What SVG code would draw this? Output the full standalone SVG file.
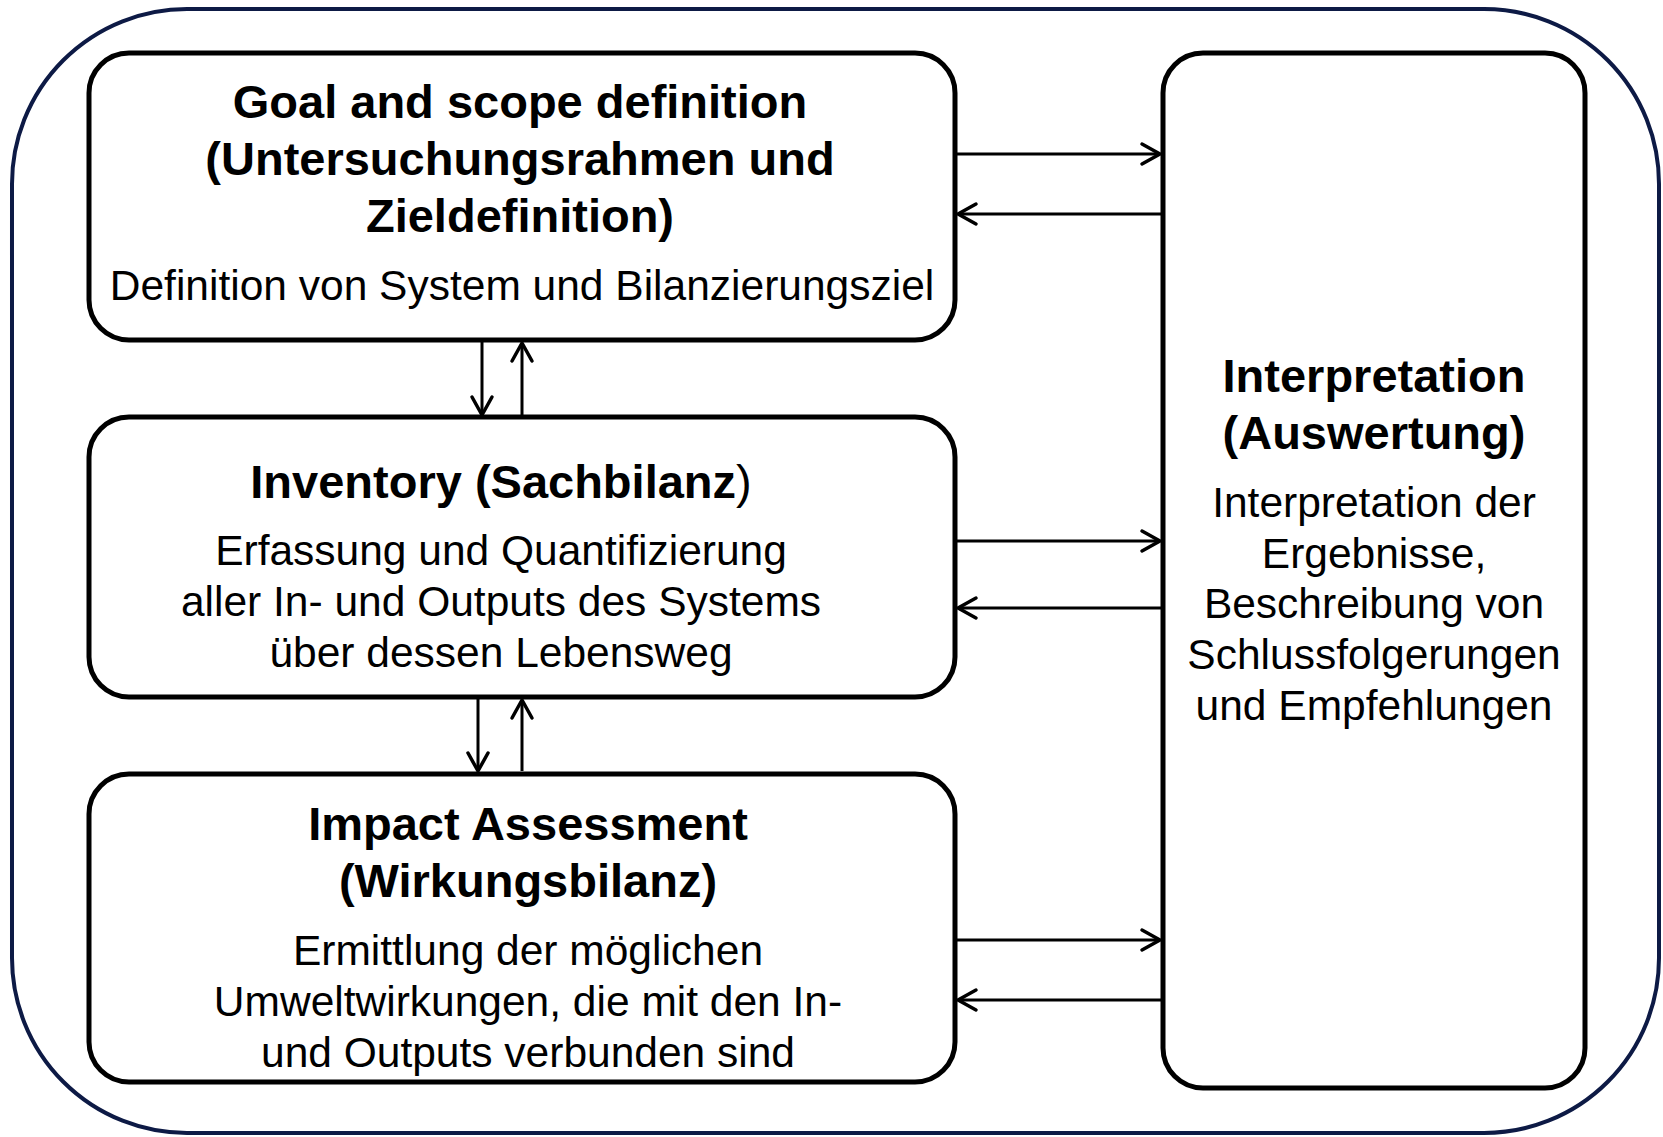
<svg xmlns="http://www.w3.org/2000/svg" width="1663" height="1137" viewBox="0 0 1663 1137">
<style>
.box{fill:#fff;stroke:#000;stroke-width:5}
.outer{fill:#fff;stroke:#0d1a45;stroke-width:4}
.b{font-family:"Liberation Sans",Arial,sans-serif;font-weight:bold;font-size:47px;fill:#000;text-anchor:middle}
.r{font-family:"Liberation Sans",Arial,sans-serif;font-size:42.5px;fill:#000;text-anchor:middle}
.c{stroke:#000;stroke-width:3;fill:none;marker-end:url(#ah)}
</style>
<defs>
<marker id="ah" markerUnits="userSpaceOnUse" viewBox="-22 -14 26 28" markerWidth="26" markerHeight="28" refX="0" refY="0" orient="auto" overflow="visible">
<path d="M-18,-10 L0,0 L-18,10" fill="none" stroke="#000" stroke-width="3.5" stroke-linecap="round" stroke-linejoin="round"/>
</marker>
</defs>
<rect class="outer" x="12" y="9" width="1647" height="1124" rx="175" ry="175"/>
<g id="goal">
<rect class="box" x="89" y="53" width="866" height="287" rx="40" ry="40"/>
<text class="b" x="520" y="118">Goal and scope definition</text>
<text class="b" x="520" y="175">(Untersuchungsrahmen und</text>
<text class="b" x="520" y="232">Zieldefinition)</text>
<text class="r" x="522" y="300">Definition von System und Bilanzierungsziel</text>
</g>
<g id="inventory">
<rect class="box" x="89" y="417" width="866" height="280" rx="40" ry="40"/>
<text class="b" x="501" y="498">Inventory (Sachbilanz<tspan font-weight="normal">)</tspan></text>
<text class="r" x="501" y="565">Erfassung und Quantifizierung</text>
<text class="r" x="501" y="616">aller In- und Outputs des Systems</text>
<text class="r" x="501" y="667">über dessen Lebensweg</text>
</g>
<g id="impact">
<rect class="box" x="89" y="774" width="866" height="308" rx="40" ry="40"/>
<text class="b" x="528" y="840">Impact Assessment</text>
<text class="b" x="528" y="897">(Wirkungsbilanz)</text>
<text class="r" x="528" y="965">Ermittlung der möglichen</text>
<text class="r" x="528" y="1016">Umweltwirkungen, die mit den In-</text>
<text class="r" x="528" y="1067">und Outputs verbunden sind</text>
</g>
<g id="interpretation">
<rect class="box" x="1163" y="53" width="422" height="1035" rx="40" ry="40"/>
<text class="b" x="1374" y="392">Interpretation</text>
<text class="b" x="1374" y="449">(Auswertung)</text>
<text class="r" x="1374" y="517">Interpretation der</text>
<text class="r" x="1374" y="568">Ergebnisse,</text>
<text class="r" x="1374" y="618">Beschreibung von</text>
<text class="r" x="1374" y="669">Schlussfolgerungen</text>
<text class="r" x="1374" y="720">und Empfehlungen</text>
</g>
<g id="connectors">
<path class="c" d="M957,154 H1160"/>
<path class="c" d="M1161,214 H958"/>
<path class="c" d="M957,541 H1160"/>
<path class="c" d="M1161,608 H958"/>
<path class="c" d="M957,940 H1160"/>
<path class="c" d="M1161,1000 H958"/>
<path class="c" d="M482,342 V415"/>
<path class="c" d="M522,415 V343"/>
<path class="c" d="M478,699 V771"/>
<path class="c" d="M522,771 V700"/>
</g>
</svg>
